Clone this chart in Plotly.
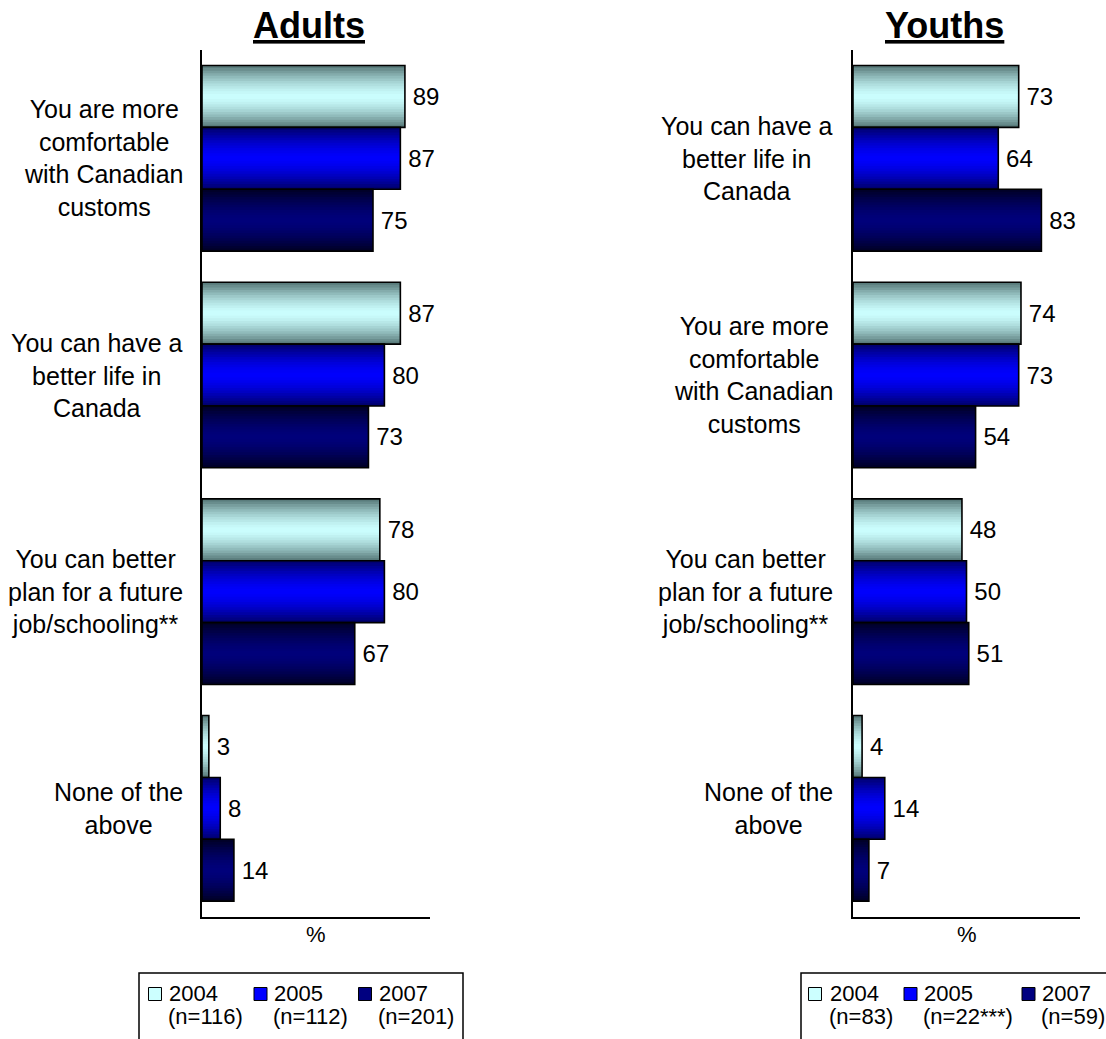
import plotly.graph_objects as go

# ---- data ----
years = ["2004", "2005", "2007"]

adult_categories = [
    "You are more<br>comfortable<br>with Canadian<br>customs",
    "You can have a<br>better life in<br>Canada",
    "You can better<br>plan for a future<br>job/schooling**",
    "None of the<br>above",
]
adult_2004 = [89, 87, 78, 3]
adult_2005 = [87, 80, 80, 8]
adult_2007 = [75, 73, 67, 14]
adult_n = ["(n=116)", "(n=112)", "(n=201)"]

youth_categories = [
    "You can have a<br>better life in<br>Canada",
    "You are more<br>comfortable<br>with Canadian<br>customs",
    "You can better<br>plan for a future<br>job/schooling**",
    "None of the<br>above",
]
youth_2004 = [73, 74, 48, 4]
youth_2005 = [64, 73, 50, 14]
youth_2007 = [83, 54, 51, 7]
youth_n = ["(n=83)", "(n=22***)", "(n=59)"]

# ---- styling ----
W, H = 1106, 1039
FONT = "Arial, Liberation Sans, sans-serif"
# (edge colour, centre colour) of the horizontal gradient for each year
GRADIENTS = [
    ((0x5A, 0x7C, 0x7C), (0xCC, 0xFF, 0xFF)),
    ((0x00, 0x00, 0x70), (0x00, 0x00, 0xFF)),
    ((0x00, 0x00, 0x28), (0x00, 0x00, 0x7C)),
]
LEGEND_SWATCH = ["#CCFFFF", "#0000FF", "#000080"]
BAR_W = 0.2855
OFFSETS = [-1.5 * BAR_W, -0.5 * BAR_W, 0.5 * BAR_W]
N_LAYERS = 12


def px_x(x):
    return x / W


def px_y(y):
    return 1 - y / H


def mix(c_edge, c_mid, t):
    return "rgb(%d,%d,%d)" % tuple(round(m + (e - m) * t) for e, m in zip(c_edge, c_mid))


fig = go.Figure()


def add_panel(values_by_year, xa, ya):
    cats = list(range(len(values_by_year[0])))
    for i, vals in enumerate(values_by_year):
        edge, mid = GRADIENTS[i]
        # nested bars of shrinking thickness fake the shaded fill
        for k in range(N_LAYERS):
            frac = 1 - k / N_LAYERS
            w = BAR_W * frac
            fig.add_trace(go.Bar(
                x=vals, y=cats, orientation="h",
                width=w, offset=OFFSETS[i] + (BAR_W - w) / 2,
                marker=dict(color=mix(edge, mid, frac ** 1.6), line=dict(width=0)),
                xaxis=xa, yaxis=ya, showlegend=False, hoverinfo="skip",
            ))
        # outline + value label on top
        fig.add_trace(go.Bar(
            x=vals, y=cats, orientation="h",
            width=BAR_W, offset=OFFSETS[i],
            marker=dict(color="rgba(0,0,0,0)", line=dict(color="black", width=1.6)),
            text=["\u2009" + str(v) for v in vals], textposition="outside",
            textfont=dict(size=24, color="black", family=FONT),
            constraintext="none", cliponaxis=False,
            xaxis=xa, yaxis=ya, showlegend=False, name=years[i],
        ))


add_panel([adult_2004, adult_2005, adult_2007], "x", "y")
add_panel([youth_2004, youth_2005, youth_2007], "x2", "y2")

y_dom = [px_y(916.7), px_y(50)]
axis_common = dict(
    range=[0, 100], showgrid=False, zeroline=False, showticklabels=False,
    ticks="", showline=True, linecolor="black", linewidth=2, fixedrange=True,
)
yaxis_common = dict(
    range=[3.5, -0.5], showgrid=False, zeroline=False, showticklabels=False,
    ticks="", showline=True, linecolor="black", linewidth=2, domain=y_dom,
)

fig.update_layout(
    width=W, height=H,
    margin=dict(l=0, r=0, t=0, b=0),
    paper_bgcolor="white", plot_bgcolor="white",
    barmode="overlay",
    font=dict(family=FONT, color="black"),
    xaxis=dict(domain=[px_x(202), px_x(430)], anchor="y", **axis_common),
    yaxis=dict(anchor="x", **yaxis_common),
    xaxis2=dict(domain=[px_x(853), px_x(1080)], anchor="y2", **axis_common),
    yaxis2=dict(anchor="x2", **yaxis_common),
)

annotations = []
shapes = []

# panel titles
for text, cx in (("Adults", 309), ("Youths", 944)):
    annotations.append(dict(
        text="<b><u>%s</u></b>" % text, x=px_x(cx), y=px_y(25),
        xref="paper", yref="paper", xanchor="center", yanchor="middle",
        showarrow=False, font=dict(size=36, family=FONT, color="black"),
    ))

# category labels
for cats, right_px, yref in ((adult_categories, 185, "y"), (youth_categories, 835, "y2")):
    for i, c in enumerate(cats):
        annotations.append(dict(
            text=c, x=px_x(right_px), y=i, xref="paper", yref=yref,
            xanchor="right", yanchor="middle", align="center", showarrow=False,
            font=dict(size=25, family=FONT, color="black"),
        ))

# "%" axis captions
for xref in ("x domain", "x2 domain"):
    annotations.append(dict(
        text="%", x=0.5, y=px_y(934), xref=xref, yref="paper",
        xanchor="center", yanchor="middle", showarrow=False,
        font=dict(size=22, family=FONT, color="black"),
    ))

# legends (boxed, two-line entries)
legend_specs = [
    (adult_n, (139, 463), [155, 260.5, 365], [167, 272, 377]),
    (youth_n, (801, 1130), [815, 910.5, 1028.5], [828, 922, 1040]),
]
for n_labels, (bx0, bx1), sw_cx, txt_x in legend_specs:
    shapes.append(dict(
        type="rect", xref="paper", yref="paper",
        x0=px_x(bx0), x1=px_x(bx1), y0=px_y(1060), y1=px_y(973),
        line=dict(color="black", width=1.5), fillcolor="rgba(0,0,0,0)",
    ))
    for i in range(3):
        shapes.append(dict(
            type="rect", xref="paper", yref="paper",
            x0=px_x(sw_cx[i] - 6.5), x1=px_x(sw_cx[i] + 6.5),
            y0=px_y(1000.5), y1=px_y(987.5),
            line=dict(color="black", width=1), fillcolor=LEGEND_SWATCH[i],
        ))
        annotations.append(dict(
            text=years[i], x=px_x(txt_x[i]), y=px_y(993), xref="paper", yref="paper",
            xanchor="left", yanchor="middle", showarrow=False,
            font=dict(size=22, family=FONT, color="black"),
        ))
        annotations.append(dict(
            text=n_labels[i], x=px_x(txt_x[i] - 1), y=px_y(1016), xref="paper", yref="paper",
            xanchor="left", yanchor="middle", showarrow=False,
            font=dict(size=22, family=FONT, color="black"),
        ))

fig.update_layout(annotations=annotations, shapes=shapes)

fig.write_html("out.html")
